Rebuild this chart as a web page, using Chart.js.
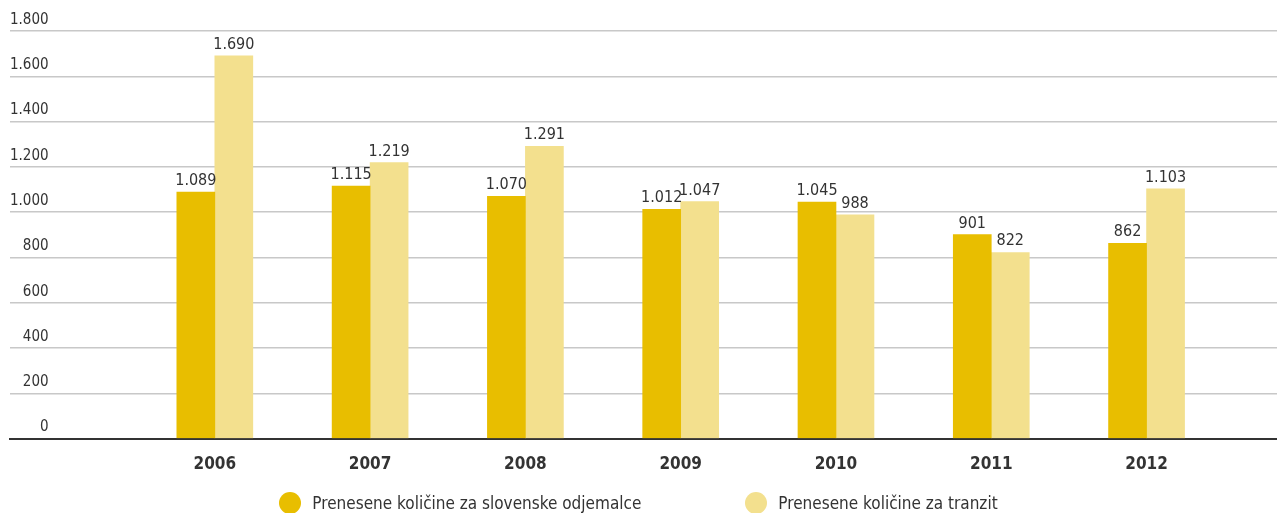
<!DOCTYPE html>
<html>
<head>
<meta charset="utf-8">
<script src="https://cdn.jsdelivr.net/npm/chart.js@4.4.1/dist/chart.umd.min.js"></script>
<style>
  body { margin: 0; background: #fff; }
  #wrap { position: relative; width: 1277px; height: 513px; }
  #legend {
    position: absolute; left: 0; right: 0; top: 492px;
    display: flex; justify-content: center; gap: 104px;
    font-family: "Liberation Sans Narrow", "DejaVu Sans Condensed", Roboto, sans-serif;
    font-size: 17px; color: #333;
  }
  #legend .item { display: flex; align-items: center; height: 22px; }
  #legend .dot { width: 22px; height: 22px; border-radius: 50%; margin-right: 11px; }
</style>
</head>
<body>
<div id="wrap">
  <canvas id="chart"></canvas>
  <div id="legend"></div>
</div>
<script>
const FONT = '"Liberation Sans Narrow", "DejaVu Sans Condensed", Roboto, sans-serif';

const years = ['2006', '2007', '2008', '2009', '2010', '2011', '2012'];
const slovenski = [1089, 1115, 1070, 1012, 1045, 901, 862];
const tranzit = [1690, 1219, 1291, 1047, 988, 822, 1103];
const seriesNames = ['Prenesene količine za slovenske odjemalce', 'Prenesene količine za tranzit'];
const seriesColors = ['#e8be00', '#f3e08e'];
const yTicks = [0, 200, 400, 600, 800, 1000, 1200, 1400, 1600, 1800];

function fmt(v) {
  return v.toLocaleString('de-DE');
}

// values over the bars
const valueLabels = {
  id: 'valueLabels',
  afterDatasetsDraw(chart) {
    const ctx = chart.ctx;
    ctx.save();
    ctx.font = '16px ' + FONT;
    ctx.fillStyle = '#333';
    ctx.textAlign = 'center';
    ctx.textBaseline = 'alphabetic';
    chart.data.datasets.forEach((ds, i) => {
      chart.getDatasetMeta(i).data.forEach((bar, j) => {
        ctx.fillText(fmt(ds.data[j].y), bar.x, bar.y - 7);
      });
    });
    ctx.restore();
  }
};

const datasets = [slovenski, tranzit].map((vals, i) => ({
  label: seriesNames[i],
  data: vals.map((v, j) => ({ x: j, y: v })),
  backgroundColor: seriesColors[i],
  borderWidth: 0,
  barThickness: 38
}));

const chart = new Chart(document.getElementById('chart'), {
  type: 'bar',
  data: { datasets },
  plugins: [valueLabels],
  options: {
    responsive: true,
    maintainAspectRatio: false,
    animation: false,
    layout: { padding: { top: 31, left: 10, right: 0, bottom: 22 } },
    plugins: {
      legend: { display: false },
      tooltip: { enabled: false }
    },
    scales: {
      x: {
        type: 'linear',
        offset: false,
        min: -1.319,
        max: 6.84,
        grid: { display: false, drawTicks: false },
        border: { color: '#333', width: 2 },
        ticks: {
          stepSize: 1,
          includeBounds: false,
          padding: 16,
          color: '#333',
          font: { family: FONT, size: 17, weight: 'bold' },
          callback: (v) => years[v] || ''
        }
      },
      y: {
        min: 0,
        max: 1800,
        afterBuildTicks: (scale) => { scale.ticks = yTicks.map(v => ({ value: v })); },
        grid: { color: '#c8c8c8', lineWidth: 1.5, drawTicks: false },
        border: { display: false },
        ticks: {
          mirror: true,
          crossAlign: 'far',
          padding: 0,
          labelOffset: -11,
          color: '#333',
          font: { family: FONT, size: 15 },
          callback: (v) => fmt(v)
        }
      }
    }
  }
});

// HTML legend built from the chart's datasets
const legend = document.getElementById('legend');
chart.data.datasets.forEach(ds => {
  const item = document.createElement('div');
  item.className = 'item';
  const dot = document.createElement('span');
  dot.className = 'dot';
  dot.style.background = ds.backgroundColor;
  const txt = document.createElement('span');
  txt.textContent = ds.label;
  item.appendChild(dot);
  item.appendChild(txt);
  legend.appendChild(item);
});
</script>
</body>
</html>
